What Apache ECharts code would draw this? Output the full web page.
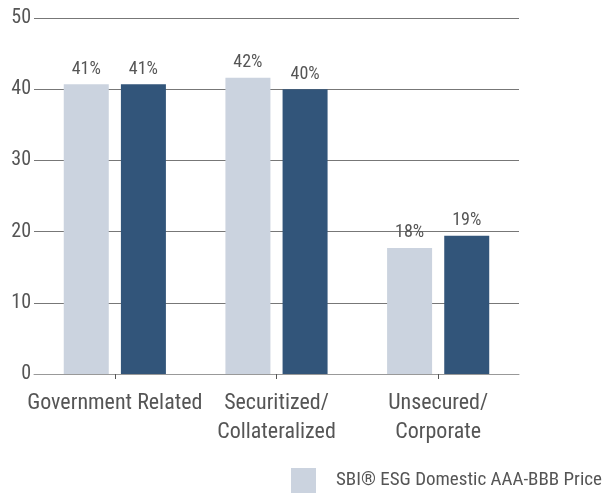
<!DOCTYPE html>
<html>
<head>
<meta charset="utf-8">
<script src="https://cdn.jsdelivr.net/npm/echarts@6/dist/echarts.min.js"></script>
<style>html,body{margin:0;padding:0;background:#fff}#c{width:612px;height:494px}</style>
</head>
<body>
<div id="c"></div>
<script>
const categories = ["Government Related", "Securitized/\nCollateralized", "Unsecured/\nCorporate"];
const seriesNames = ["SBI® ESG Domestic AAA-BBB Price", "SBI® Domestic AAA-BBB Price"];
const esgValues = [40.7, 41.6, 17.7];
const baseValues = [40.7, 40.0, 19.4];
const yTicks = [0, 10, 20, 30, 40, 50];

const font = "'Roboto Condensed', sans-serif";
const fw = 'normal';
const chart = echarts.init(document.getElementById('c'));
const labelCfg = {
  show: true, position: 'top', distance: 6,
  color: '#555', fontSize: 18, fontFamily: font, fontWeight: fw,
  formatter: p => Math.round(p.value) + '%'
};
chart.setOption({
  animation: false,
  textStyle: { fontFamily: font },
  legend: {
    data: [seriesNames[0]],
    left: 286, top: 463,
    itemWidth: 25, itemHeight: 25, itemGap: 20,
    icon: 'rect',
    textStyle: { color: '#555', fontSize: 19, fontFamily: font, fontWeight: fw, padding: [0, 0, 0, 15] }
  },
  grid: { left: 34, right: 93, top: 18, bottom: 120, containLabel: false },
  xAxis: {
    type: 'category',
    data: categories,
    axisLine: { lineStyle: { color: '#999', width: 1 } },
    axisTick: { show: true, alignWithLabel: true, length: 5, lineStyle: { color: '#555' } },
    axisLabel: { color: '#555', fontSize: 22, fontFamily: font, fontWeight: fw, margin: 15, lineHeight: 29, interval: 0 }
  },
  yAxis: {
    type: 'value', min: yTicks[0], max: yTicks[yTicks.length - 1], interval: 10,
    axisLine: { show: false }, axisTick: { show: false },
    axisLabel: { color: '#555', fontSize: 20, fontFamily: font, fontWeight: fw, margin: 3 },
    splitLine: { lineStyle: { color: '#777', width: 1.2 } }
  },
  series: [
    { name: seriesNames[0], type: 'bar', data: esgValues, barWidth: 45, barGap: '27%',
      itemStyle: { color: '#CBD3DF' }, label: labelCfg },
    { name: seriesNames[1], type: 'bar', data: baseValues, barWidth: 45,
      itemStyle: { color: '#32557A' }, label: labelCfg }
  ]
});
</script>
</body>
</html>
